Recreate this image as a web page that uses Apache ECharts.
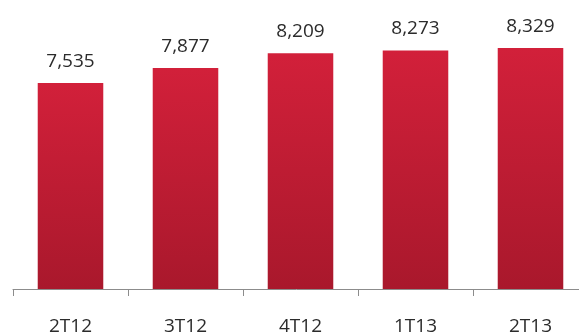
<!DOCTYPE html>
<html>
<head>
<meta charset="utf-8">
<script src="https://cdn.jsdelivr.net/npm/echarts@6/dist/echarts.min.js"></script>
<style>
  html, body { margin: 0; padding: 0; background: #fff; }
  #chart { width: 579px; height: 336px; }
</style>
</head>
<body>
<div id="chart"></div>
<script>
var quarters = ['2T12', '3T12', '4T12', '1T13', '2T13'];
var values = [7535, 7877, 8209, 8273, 8329];

var myChart = echarts.init(document.getElementById('chart'));

var option = {
    animation: false,
    grid: {
        left: 13,
        right: -9,
        top: 0,
        bottom: 47,
        outerBoundsMode: 'none'
    },
    xAxis: {
        type: 'category',
        data: quarters,
        axisLine: { lineStyle: { color: '#8c8c8c', width: 1 } },
        axisTick: { show: true, length: 7, lineStyle: { color: '#8c8c8c' } },
        axisLabel: {
            margin: 28,
            color: '#2b2b2b',
            fontSize: 19,
            fontFamily: 'Open Sans'
        }
    },
    yAxis: {
        type: 'value',
        min: 2860,
        max: 9420,
        show: false,
        splitLine: { show: false }
    },
    series: [{
        type: 'bar',
        data: values,
        barWidth: '57%',
        itemStyle: {
            color: new echarts.graphic.LinearGradient(0, 0, 0, 1, [
                { offset: 0, color: '#d2203a' },
                { offset: 1, color: '#a9182c' }
            ])
        },
        label: {
            show: true,
            position: 'top',
            distance: 12,
            color: '#2b2b2b',
            fontSize: 19,
            fontFamily: 'Open Sans',
            formatter: function (p) {
                return p.value.toLocaleString('en-US');
            }
        }
    }]
};

myChart.setOption(option);
</script>
</body>
</html>
